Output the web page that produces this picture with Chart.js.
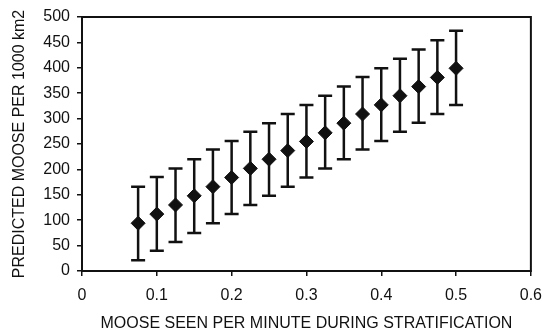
<!DOCTYPE html>
<html>
<head>
<meta charset="utf-8">
<script src="https://cdn.jsdelivr.net/npm/chart.js@4/dist/chart.umd.min.js"></script>
<style>
  html,body{margin:0;padding:0;background:#fff;}
  #wrap{width:552px;height:335px;}
</style>
</head>
<body>
<div id="wrap"><canvas id="moose_chart" width="552" height="335"></canvas></div>
<script>
//DATA
const moose_seen=[0.075,0.1,0.125,0.15,0.175,0.2,0.225,0.25,0.275,0.3,0.325,0.35,0.375,0.4,0.425,0.45,0.475,0.5];
const predicted=[94,112,130,148,166,184,202,220,237,255,272,291,309,327,345,363,381,399];
const upper_ci=[166,185,202,220,239,256,274,291,309,327,345,363,382,399,418,436,454,473];
const lower_ci=[21,40,57,75,94,112,130,148,166,184,202,220,239,256,274,292,309,327];
const x_tick_labels=['0','0.1','0.2','0.3','0.4','0.5','0.6'];
const y_ticks=[0,50,100,150,200,250,300,350,400,450,500];

const ink='#111';
const tick_font={family:'"Liberation Sans", Arial, sans-serif',size:16};

//ERROR BARS + FRAME
const errorBars={
  id:'errorBars',
  afterDatasetsDraw(chart){
    const {ctx,chartArea,scales:{x,y}}=chart;
    ctx.save();
    ctx.strokeStyle=ink;
    ctx.lineWidth=2.5;
    moose_seen.forEach((v,i)=>{
      const px=x.getPixelForValue(v);
      const top=y.getPixelForValue(upper_ci[i]);
      const bot=y.getPixelForValue(lower_ci[i]);
      ctx.beginPath();
      ctx.moveTo(px,top);ctx.lineTo(px,bot);
      ctx.moveTo(px-7,top);ctx.lineTo(px+7,top);
      ctx.moveTo(px-7,bot);ctx.lineTo(px+7,bot);
      ctx.stroke();
    });
    ctx.lineWidth=2;
    ctx.strokeRect(chartArea.left,chartArea.top,chartArea.right-chartArea.left,chartArea.bottom-chartArea.top);
    ctx.restore();
  }
};

const ctx=document.getElementById('moose_chart').getContext('2d');
new Chart(ctx,{
  type:'scatter',
  data:{
    datasets:[{
      label:'Predicted moose',
      data:moose_seen.map((v,i)=>({x:v,y:predicted[i]})),
      pointStyle:'rectRot',
      radius:7,
      backgroundColor:ink,
      borderColor:ink,
      borderWidth:1
    }]
  },
  options:{
    responsive:false,
    animation:false,
    layout:{padding:{top:17,right:13,bottom:0,left:0}},
    plugins:{legend:{display:false},tooltip:{enabled:false}},
    scales:{
      x:{
        type:'linear',min:0,max:0.6,
        afterBuildTicks(scale){scale.ticks=x_tick_labels.map(t=>({value:parseFloat(t)}));},
        afterFit(scale){scale.height=64;},
        ticks:{color:ink,font:tick_font,padding:10,maxRotation:0,
          callback:(v,i)=>x_tick_labels[i]},
        grid:{drawOnChartArea:false,color:ink,tickLength:5,lineWidth:1.5},
        border:{color:ink,width:2},
        title:{display:true,text:'MOOSE SEEN PER MINUTE DURING STRATIFICATION',color:ink,
          font:tick_font,padding:{top:0,bottom:2}}
      },
      y:{
        min:0,max:500,
        afterBuildTicks(scale){scale.ticks=y_ticks.map(t=>({value:t}));},
        afterFit(scale){scale.width=82;},
        ticks:{color:ink,font:tick_font,padding:7},
        grid:{drawOnChartArea:false,color:ink,tickLength:5,lineWidth:1.5},
        border:{color:ink,width:2},
        title:{display:true,text:'PREDICTED MOOSE PER 1000 km2',color:ink,
          font:tick_font,padding:{top:10,bottom:0}}
      }
    }
  },
  plugins:[errorBars]
});
</script>
</body>
</html>
